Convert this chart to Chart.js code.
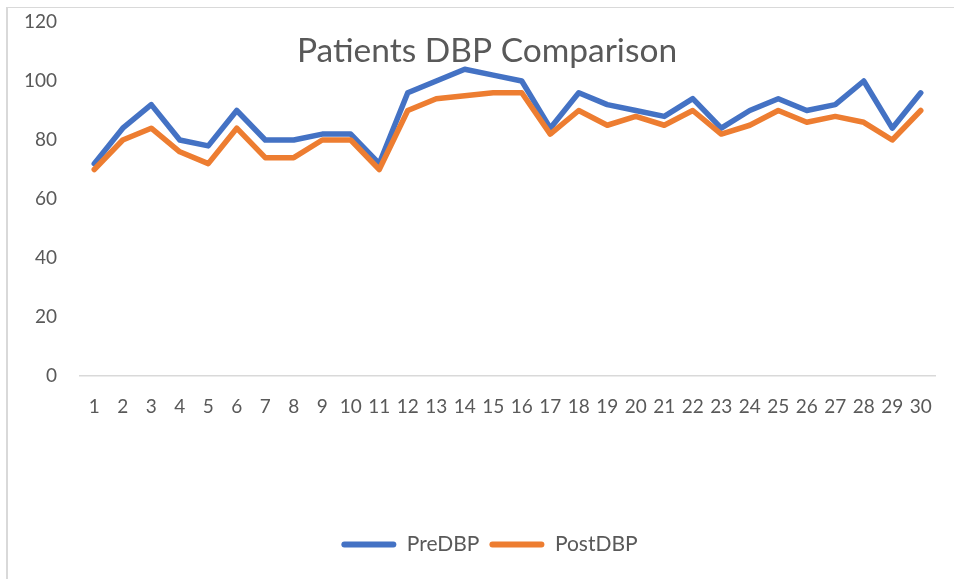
<!DOCTYPE html>
<html>
<head>
<meta charset="utf-8">
<script src="https://cdn.jsdelivr.net/npm/chart.js@4.4.1/dist/chart.umd.min.js"></script>
<style>
  html, body { margin: 0; padding: 0; background: #fff; }
  #wrap { position: relative; width: 954px; height: 579px; }
  #frame { position: absolute; left: 6px; top: 7px; right: -10px; bottom: -10px;
           border-left: 2px solid #d9d9d9; border-top: 1px solid #d9d9d9; }
  canvas { position: absolute; left: 0; top: 0; }
</style>
</head>
<body>
<div id="wrap">
  <div id="frame"></div>
  <canvas id="chart" width="954" height="579"></canvas>
</div>
<script>
// chart data
var patients = ['1', '2', '3', '4', '5', '6', '7', '8', '9', '10',
    '11', '12', '13', '14', '15', '16', '17', '18', '19', '20',
    '21', '22', '23', '24', '25', '26', '27', '28', '29', '30']

var preDBP = [72, 84, 92, 80, 78, 90, 80, 80, 82, 82,
    72, 96, 100, 104, 102, 100, 84, 96, 92, 90,
    88, 94, 84, 90, 94, 90, 92, 100, 84, 96]

var postDBP = [70, 80, 84, 76, 72, 84, 74, 74, 80, 80,
    70, 90, 94, 95, 96, 96, 82, 90, 85, 88,
    85, 90, 82, 85, 90, 86, 88, 86, 80, 90]

var yTicks = [0, 20, 40, 60, 80, 100, 120]

var chartTitle = 'Patients DBP Comparison'

var grey = '#595959'
var font = 'Lato'

// title is drawn over the plot area, like the original
var overlayTitle = {
    id: 'overlayTitle',
    afterLayout: function (chart) {
        // legend in the original sits a bit right of the canvas centre
        chart.legend.left += 22
        chart.legend.right += 22
    },
    afterDraw: function (chart) {
        let ctx = chart.ctx
        ctx.save()
        ctx.font = '33.5px ' + font
        ctx.fillStyle = grey
        ctx.textAlign = 'center'
        ctx.textBaseline = 'alphabetic'
        ctx.fillText(chartTitle, 487, 62)
        ctx.restore()
    }
}

function lineSet(label, data, color, order) {
    return {
        label: label,
        data: data,
        borderColor: color,
        backgroundColor: color,
        borderWidth: 5.5,
        borderCapStyle: 'round',
        borderJoinStyle: 'round',
        pointRadius: 0,
        pointHoverRadius: 0,
        tension: 0,
        fill: false,
        order: order
    }
}

new Chart(document.getElementById('chart'), {
    type: 'line',
    data: {
        labels: patients,
        datasets: [
            lineSet('PreDBP', preDBP, '#4472C4', 1),
            lineSet('PostDBP', postDBP, '#ED7D31', 0)
        ]
    },
    plugins: [overlayTitle],
    options: {
        responsive: false,
        animation: false,
        layout: { padding: { left: 0, right: 19, top: 22, bottom: 14 } },
        plugins: {
            title: { display: false },
            tooltip: { enabled: false },
            legend: {
                position: 'bottom',
                labels: {
                    font: { family: font, size: 21 },
                    color: grey,
                    boxWidth: 55,
                    boxHeight: 6,
                    useBorderRadius: true,
                    borderRadius: 3,
                    padding: 10,
                    sort: function (a, b) { return a.datasetIndex - b.datasetIndex },
                    generateLabels: function (chart) {
                        let items = Chart.defaults.plugins.legend.labels.generateLabels(chart)
                        items.forEach(function (it) { it.lineWidth = 0 })
                        return items
                    }
                }
            }
        },
        scales: {
            x: {
                offset: true,
                grid: { display: false, drawTicks: false, offset: true },
                border: { display: true, color: '#d9d9d9', width: 1.5 },
                ticks: {
                    font: { family: font, size: 19 },
                    color: grey,
                    padding: 19,
                    maxRotation: 0,
                    autoSkip: false
                },
                afterFit: function (axis) { axis.height = 148 }
            },
            y: {
                min: 0,
                max: 120,
                grid: { display: false, drawTicks: false },
                border: { display: false },
                afterBuildTicks: function (axis) {
                    axis.ticks = yTicks.map(function (v) { return { value: v } })
                },
                ticks: {
                    font: { family: font, size: 19 },
                    color: grey,
                    padding: 23
                },
                afterFit: function (axis) {
                    axis.width = 80
                    axis.paddingTop = 12
                    axis.paddingBottom = 12
                }
            }
        }
    }
})
</script>
</body>
</html>
